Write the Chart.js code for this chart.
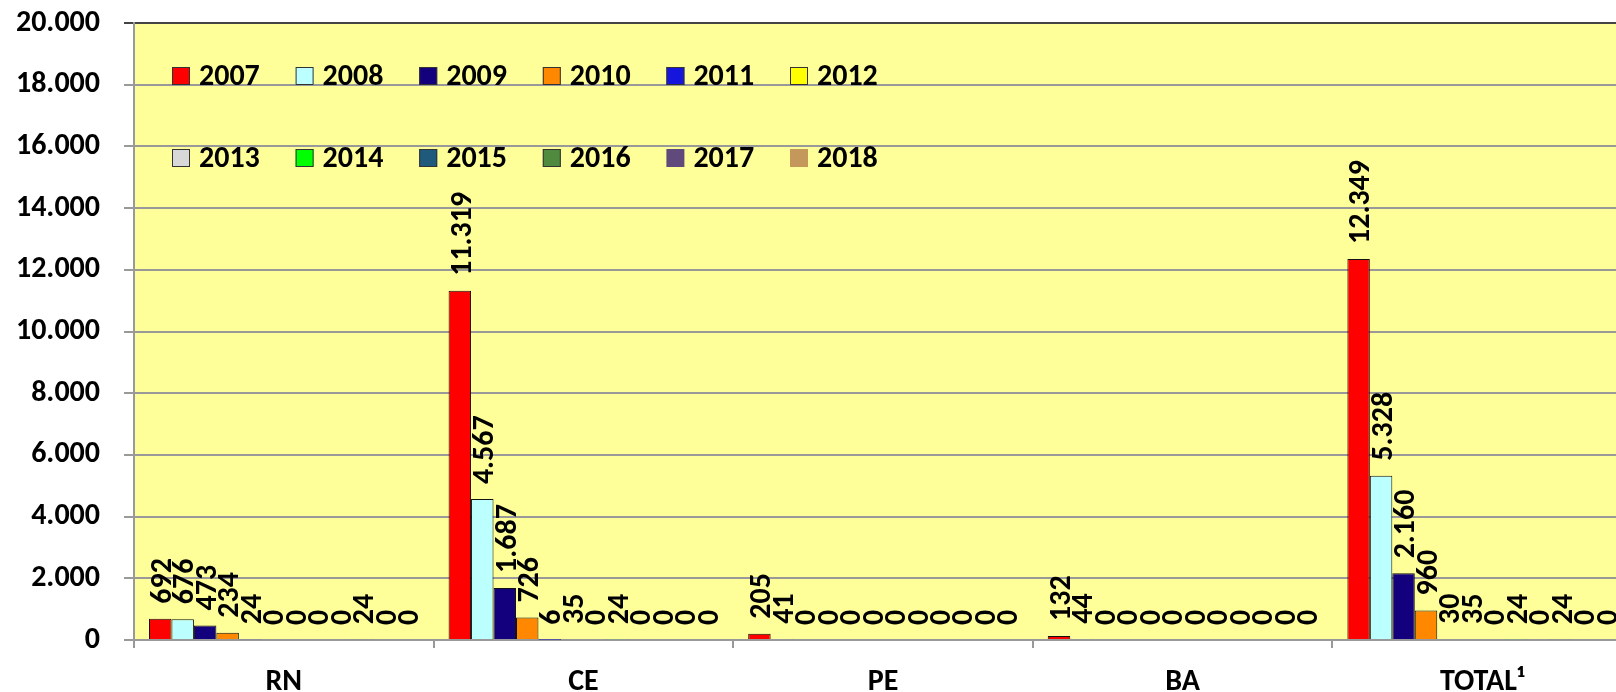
<!DOCTYPE html>
<html>
<head>
<meta charset="utf-8">
<script src="https://cdn.jsdelivr.net/npm/chart.js@4/dist/chart.umd.min.js"></script>
<style>
  html, body { margin: 0; padding: 0; background: #fff; overflow: hidden; }
  #wrap { width: 1634px; height: 692px; }
</style>
</head>
<body>
<div id="wrap"><canvas id="grafico" width="1634" height="692"></canvas></div>
<script>
// categorias y valores
const categorias = ['RN', 'CE', 'PE', 'BA', 'TOTAL¹'];
const anos = ['2007', '2008', '2009', '2010', '2011', '2012', '2013', '2014', '2015', '2016', '2017', '2018'];

const v2007 = [692, 11319, 205, 132, 12349];
const v2008 = [676, 4567, 41, 44, 5328];
const v2009 = [473, 1687, 0, 0, 2160];
const v2010 = [234, 726, 0, 0, 960];
const v2011 = [24, 6, 0, 0, 30];
const v2012 = [0, 35, 0, 0, 35];
const v2013 = [0, 0, 0, 0, 0];
const v2014 = [0, 24, 0, 0, 24];
const v2015 = [0, 0, 0, 0, 0];
const v2016 = [24, 0, 0, 0, 24];
const v2017 = [0, 0, 0, 0, 0];
const v2018 = [0, 0, 0, 0, 0];

const valores = [v2007, v2008, v2009, v2010, v2011, v2012, v2013, v2014, v2015, v2016, v2017, v2018];

const yTicks = [0, 2000, 4000, 6000, 8000, 10000, 12000, 14000, 16000, 18000, 20000];

const colores = [
    '#FF0000', '#BBFFFF', '#13007C', '#FF8800', '#1515DD', '#FFFF00',
    '#D8D8D8', '#00FF00', '#1F5A7D', '#4F8A3F', '#5F4A7B', '#C4975B'
];

const FUENTE = 'Carlito, Lato, sans-serif';
const TAM = 30;

function fmt(v) {
    return String(v).replace(/\B(?=(\d{3})+(?!\d))/g, '.');
}

// fondo amarillo del area
const fondo = {
    id: 'fondo',
    beforeDraw(chart) {
        const a = chart.chartArea, ctx = chart.ctx;
        ctx.save();
        ctx.fillStyle = '#FFFF99';
        ctx.fillRect(a.left, a.top, a.right - a.left, a.bottom - a.top);
        ctx.restore();
    }
};

// etiquetas verticales encima de cada barra
const etiquetas = {
    id: 'etiquetas',
    afterDatasetsDraw(chart) {
        const ctx = chart.ctx;
        ctx.save();
        ctx.font = 'bold ' + TAM + 'px ' + FUENTE;
        ctx.fillStyle = '#000';
        ctx.textAlign = 'left';
        ctx.textBaseline = 'alphabetic';
        chart.data.datasets.forEach((ds, i) => {
            chart.getDatasetMeta(i).data.forEach((el, j) => {
                ctx.save();
                ctx.translate(el.x, el.y - 15);
                ctx.rotate(-Math.PI / 2);
                ctx.fillText(fmt(ds.data[j]), 0, TAM * 0.36);
                ctx.restore();
            });
        });
        ctx.restore();
    }
};

// leyenda dentro del area, dos filas
const leyenda = {
    id: 'leyenda',
    afterDraw(chart) {
        const a = chart.chartArea, ctx = chart.ctx;
        ctx.save();
        ctx.font = 'bold ' + TAM + 'px ' + FUENTE;
        ctx.textBaseline = 'middle';
        ctx.textAlign = 'left';
        chart.data.datasets.forEach((ds, i) => {
            const fila = Math.floor(i / 6), col = i % 6;
            const x = a.left + 38 + col * 123.6;
            const y = a.top + 53 + fila * 82;
            ctx.fillStyle = ds.backgroundColor;
            ctx.fillRect(x, y - 9, 18, 18);
            if (i < 10) {
                ctx.strokeStyle = '#333';
                ctx.lineWidth = 1;
                ctx.strokeRect(x + 0.5, y - 8.5, 17, 17);
            }
            ctx.fillStyle = '#000';
            ctx.fillText(ds.label, x + 27, y + 1);
        });
        ctx.restore();
    }
};

const datasets = anos.map((a, i) => ({
    label: a,
    data: valores[i],
    backgroundColor: colores[i],
    borderColor: '#111',
    borderWidth: 1,
    categoryPercentage: 0.9,
    barPercentage: 1.0
}));

new Chart(document.getElementById('grafico').getContext('2d'), {
    type: 'bar',
    data: { labels: categorias, datasets: datasets },
    options: {
        responsive: false,
        animation: false,
        layout: { padding: { top: 23, right: 2, left: 0, bottom: 0 } },
        plugins: {
            legend: { display: false },
            tooltip: { enabled: false }
        },
        scales: {
            x: {
                grid: { offset: true, drawOnChartArea: false, tickLength: 8, color: '#999', lineWidth: 2 },
                border: { color: '#999', width: 2 },
                ticks: { color: '#000', font: { family: FUENTE, size: TAM, weight: 'bold' }, padding: 16 },
                afterFit: s => { s.height = 52; }
            },
            y: {
                min: 0,
                max: 20000,
                afterBuildTicks: s => { s.ticks = yTicks.map(v => ({ value: v })); },
                grid: {
                    color: ctx => ctx.tick && ctx.tick.value === 20000 ? '#444' : '#999',
                    lineWidth: 2,
                    tickLength: 10
                },
                border: { color: '#999', width: 2 },
                ticks: {
                    color: '#000',
                    font: { family: FUENTE, size: TAM, weight: 'bold' },
                    padding: 24,
                    callback: v => fmt(v)
                },
                afterFit: s => { s.width = 134; s.paddingTop = 0; s.paddingBottom = 0; }
            }
        }
    },
    plugins: [fondo, etiquetas, leyenda]
});
</script>
</body>
</html>
